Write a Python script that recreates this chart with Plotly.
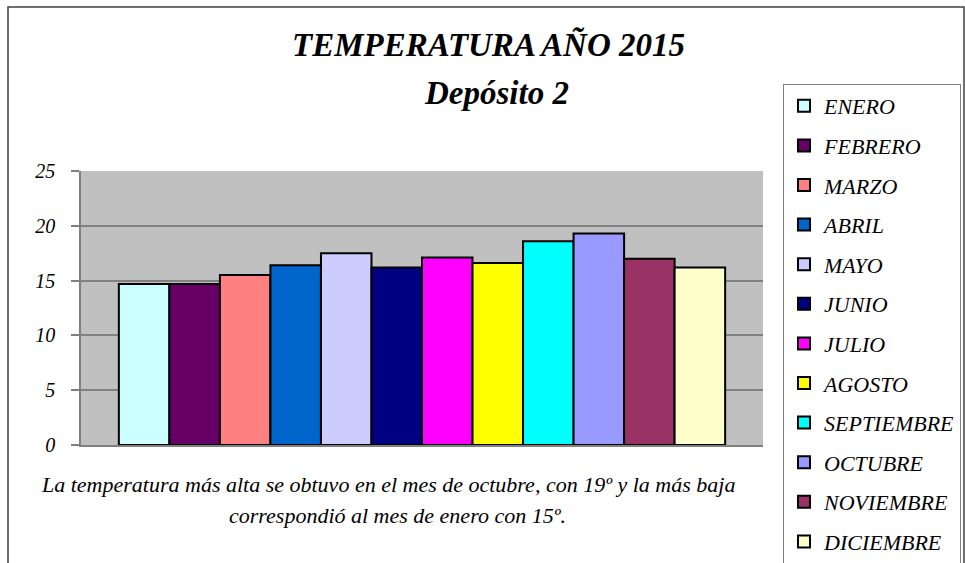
import plotly.graph_objects as go

months = ["ENERO", "FEBRERO", "MARZO", "ABRIL", "MAYO", "JUNIO", "JULIO",
          "AGOSTO", "SEPTIEMBRE", "OCTUBRE", "NOVIEMBRE", "DICIEMBRE"]
temps = [14.7, 14.7, 15.5, 16.4, 17.5, 16.2, 17.1, 16.6, 18.6, 19.3, 17.0, 16.2]
colors = ["#CCFFFF", "#660066", "#FF8080", "#0066CC", "#CCCCFF", "#000080",
          "#FF00FF", "#FFFF00", "#00FFFF", "#9999FF", "#993366", "#FFFFCC"]
y_ticks = [0, 5, 10, 15, 20, 25]

W, H = 965, 563
L, R, T, B = 81, 763, 171, 445


def px(x):
    return (x - L) / (R - L)


def py(y):
    return (B - y) / (B - T)


FONT = "Liberation Serif"

fig = go.Figure()
for m, v, c in zip(months, temps, colors):
    fig.add_trace(go.Bar(
        x=[""], y=[v], name=m, legendgroup=m,
        marker=dict(color=c, line=dict(color="black", width=2)),
        hoverinfo="name+y",
    ))

fig.update_layout(
    width=W, height=H,
    margin=dict(l=L, r=W - R, t=T, b=H - B, autoexpand=False),
    paper_bgcolor="white",
    plot_bgcolor="#C0C0C0",
    barmode="group", bargap=0.111, bargroupgap=0,
    showlegend=True,
    legend=dict(
        x=px(783), y=py(84), xanchor="left", yanchor="top",
        bordercolor="#808080", borderwidth=1, bgcolor="white",
        font=dict(family=FONT, size=22, color="black", style="italic"),
        tracegroupgap=8, traceorder="grouped", maxheight=2000,
        itemwidth=30,
    ),
    xaxis=dict(showticklabels=False, showgrid=False, showline=True,
               linecolor="#808080", linewidth=1.5, ticks="", zeroline=False,
               fixedrange=True),
    yaxis=dict(range=[0, 25], tickvals=y_ticks, showgrid=True,
               gridcolor="#808080", gridwidth=1.5, showline=True,
               linecolor="#808080", linewidth=1.5, ticks="outside",
               ticklen=8, tickcolor="#808080", tickwidth=1.5,
               ticklabelstandoff=12, zeroline=False,
               tickfont=dict(family=FONT, size=20, color="black", style="italic")),
    annotations=[
        dict(xref="paper", yref="paper", x=px(488), y=py(45),
             text="<b><i>TEMPERATURA AÑO 2015</i></b>", showarrow=False,
             font=dict(family=FONT, size=33, color="black"), xanchor="center", yanchor="middle"),
        dict(xref="paper", yref="paper", x=px(496), y=py(93),
             text="<b><i>Depósito 2</i></b>", showarrow=False,
             font=dict(family=FONT, size=33, color="black"), xanchor="center", yanchor="middle"),
        dict(xref="paper", yref="paper", x=px(388), y=py(484),
             text="<i>La temperatura más alta se obtuvo en el mes de octubre, con 19º y la más baja</i>",
             showarrow=False, font=dict(family=FONT, size=22, color="black"),
             xanchor="center", yanchor="middle"),
        dict(xref="paper", yref="paper", x=px(397), y=py(515),
             text="<i>correspondió al mes de enero con 15º.</i>",
             showarrow=False, font=dict(family=FONT, size=22, color="black"),
             xanchor="center", yanchor="middle"),
    ],
    shapes=[
        dict(type="rect", xref="paper", yref="paper",
             x0=px(8), x1=px(964), y0=py(570), y1=py(7),
             line=dict(color="#404040", width=1.5), fillcolor="rgba(0,0,0,0)",
             layer="below"),
    ],
)

fig.write_html("out.html", config={"displayModeBar": False},
               post_script="document.body.style.margin='0';")
